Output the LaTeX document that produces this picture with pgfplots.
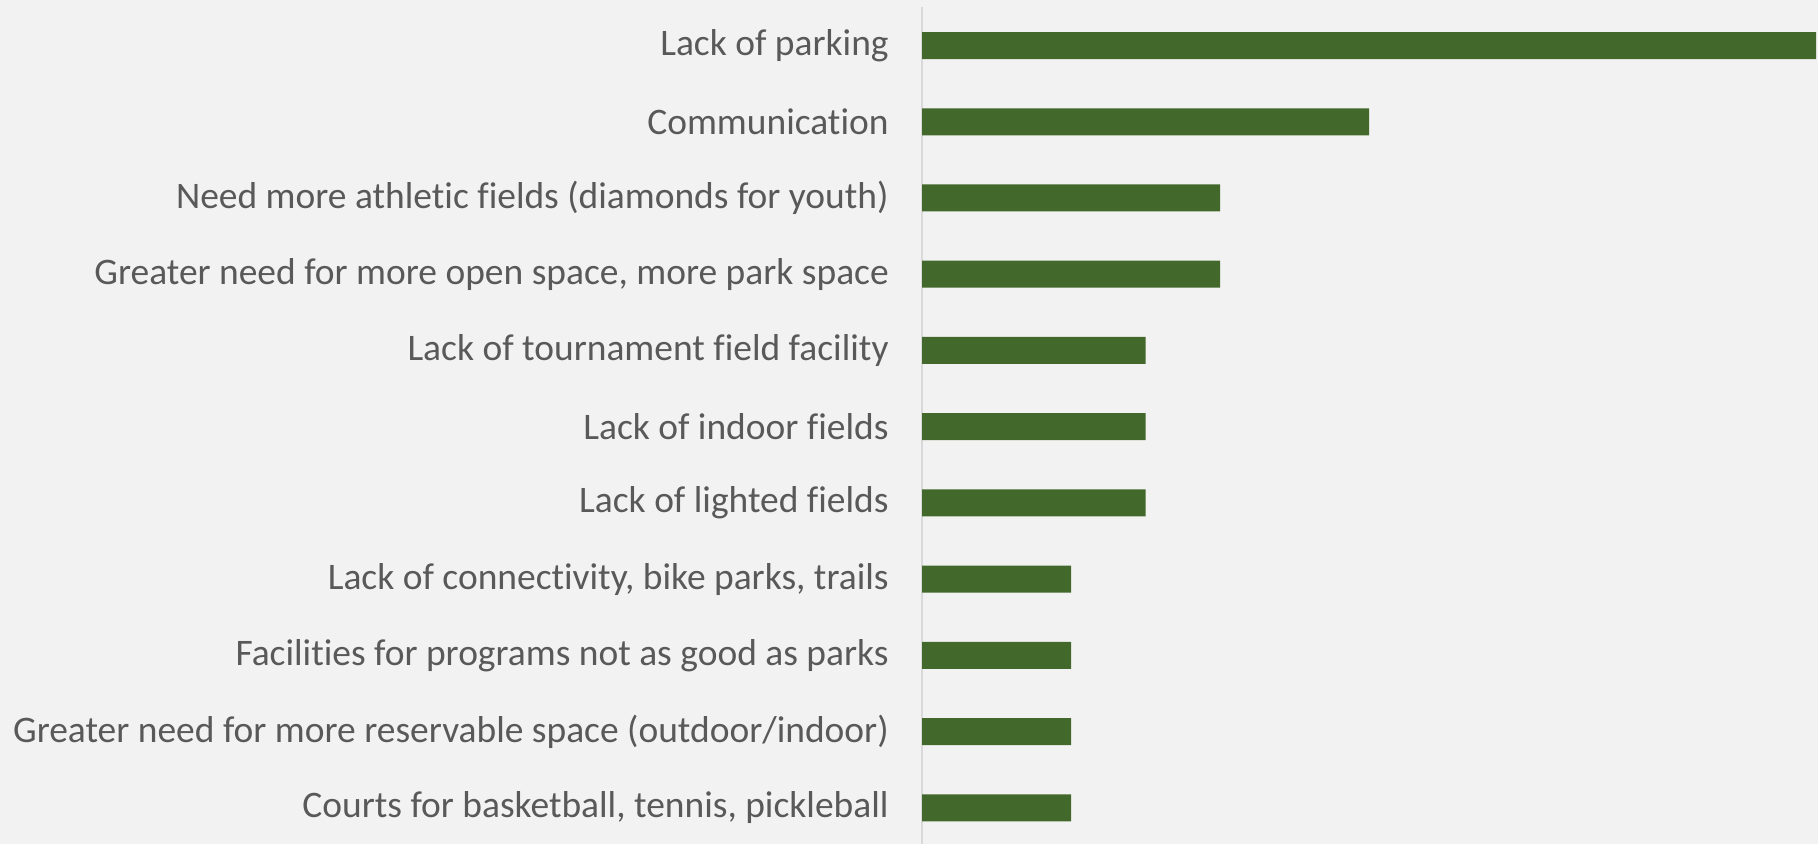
\documentclass[border=0pt]{standalone}
\usepackage{pgfplots}
\pgfplotsset{compat=1.18}
\usepackage{fontspec}
\setmainfont{Carlito}[Ligatures=NoCommon]
\definecolor{bg}{HTML}{F2F2F2}
\definecolor{bargreen}{HTML}{43682B}
\definecolor{labelgrey}{HTML}{595959}
\definecolor{axisgrey}{HTML}{D9D9D9}
\begin{document}
\begin{tikzpicture}
\fill[bg] (0,0) rectangle (909bp,422bp);
\useasboundingbox (0,0) rectangle (909bp,422bp);
\begin{axis}[
    at={(461bp,418.3bp)}, anchor=north west,
    scale only axis,
    width=447bp, height=419.3bp,
    xmin=0, xmax=12,
    ymin=-0.5, ymax=10.5,
    y dir=reverse,
    axis x line=none,
    axis y line*=left,
    y axis line style={draw=axisgrey, line width=0.75bp, -},
    ytick={0,...,10},
    major tick length=0,
    yticklabels={Lack of parking,
      Communication,
      Need more athletic fields (diamonds for youth),
      {Greater need for more open space, more park space},
      Lack of tournament field facility,
      Lack of indoor fields,
      Lack of lighted fields,
      {Lack of connectivity, bike parks, trails},
      Facilities for programs not as good as parks,
      Greater need for more reservable space (outdoor/indoor),
      {Courts for basketball, tennis, pickleball}},
    yticklabel style={font=\fontsize{18.8}{22}\selectfont, text=labelgrey,
      anchor=east, inner sep=0pt, xshift=-16.5bp},
    clip=false,
]
\addplot[xbar, bar width=13.5bp, fill=bargreen, draw=none] coordinates {
    (12,0)
    (6,1)
    (4,2)
    (4,3)
    (3,4)
    (3,5)
    (3,6)
    (2,7)
    (2,8)
    (2,9)
    (2,10)
};
\end{axis}
\end{tikzpicture}
\end{document}
